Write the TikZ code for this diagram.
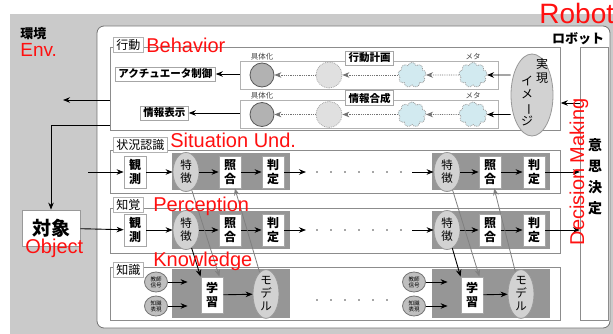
\documentclass[tikz,border=0pt]{standalone}
\usepackage{fontspec}
\setmainfont{Liberation Sans}
\newfontfamily\jp{Noto Sans CJK JP}
\usetikzlibrary{arrows.meta,shapes.geometric,shapes.symbols}
\definecolor{envgray}{HTML}{CACACA}
\definecolor{grpgray}{HTML}{969696}
\definecolor{ovalgray}{HTML}{D2D2D2}
\definecolor{cloudblue}{HTML}{D2EAF0}
\definecolor{enred}{HTML}{FF1010}

\begin{document}
\begin{tikzpicture}[x=1pt, y=-1pt, line width=0.8pt,
  panel/.style={draw=black!45, fill=white, anchor=north west, inner sep=0pt},
  tag/.style={draw=black!30, fill=white, anchor=north west, inner xsep=3pt, inner ysep=2pt,
    font=\jp\fontsize{12}{12}\selectfont},
  plate/.style={draw=black!35, fill=white, inner xsep=3pt, inner ysep=2pt,
    font=\jp\bfseries\fontsize{10.5}{11}\selectfont},
  rowbox/.style={draw=black!30, fill=white, minimum width=258pt, minimum height=28pt, inner sep=0pt},
  vbox/.style={draw=black!35, fill=white, minimum width=22pt, minimum height=32pt,
    inner sep=0pt, align=center, font=\jp\bfseries\fontsize{12}{14}\selectfont},
  oval/.style={ellipse, draw=black!40, fill=ovalgray, inner sep=0pt, align=center,
    font=\jp\fontsize{11.5}{13}\selectfont},
  smalloval/.style={ellipse, draw=black!55, fill=black!25, inner sep=0pt, align=center,
    minimum width=23pt, minimum height=20pt, font=\jp\fontsize{5.5}{6}\selectfont},
  realc/.style={circle, draw=black!65, fill=black!30, minimum size=24pt, inner sep=0pt},
  planc/.style={circle, densely dotted, draw=black!35, fill=black!12, minimum size=26pt, inner sep=0pt},
  metac/.style={cloud, cloud puffs=9, cloud ignores aspect, densely dotted, draw=black!40,
    fill=cloudblue, minimum width=28pt, minimum height=25pt, inner sep=0pt},
  mini/.style={font=\jp\fontsize{7.5}{8}\selectfont, inner sep=0pt, text=black!75},
  arr/.style={-{Stealth[length=7pt,width=5.5pt]}, line width=0.9pt},
  garr/.style={arr, draw=black!50, line width=0.8pt},
  darr/.style={-{Stealth[length=7pt,width=5.5pt]}, densely dotted, draw=black!55, line width=0.8pt},
  dots/.style={line width=1.8pt, line cap=round, dash pattern=on 0pt off 14pt, black!70},
  en/.style={text=enred, font=\fontsize{20}{20}\selectfont, inner sep=0pt, anchor=base west},
]
  % page, environment (gray) and the robot (white, rounded)
  \useasboundingbox (0,0) rectangle (613,334);
  \fill[white] (0,0) rectangle (613,334);
  \fill[envgray] (10,14) rectangle (613,334);
  \draw[black!55, fill=white, rounded corners=7pt] (97,26) rectangle (610,328);

  \node[anchor=north west, inner sep=0pt, font=\jp\bfseries\fontsize{13}{13}\selectfont]
    (envtitle) at (20,27) {環境};
  \node[anchor=north, inner sep=0pt, font=\jp\bfseries\fontsize{13}{13}\selectfont]
    (robtitle) at (578,32) {ロボット};

  % the four panels and the decision column
  \node[panel, minimum width=450pt, minimum height=83pt] (beh) at (110,47) {};
  \node[panel, minimum width=450pt, minimum height=43pt] (sit) at (110,150) {};
  \node[panel, minimum width=450pt, minimum height=45pt] (per) at (110,208) {};
  \node[panel, minimum width=450pt, minimum height=53pt] (kno) at (110,267) {};
  \node[panel, minimum width=28pt, minimum height=273pt] (dm) at (580,47) {};
  \node[align=center, inner sep=0pt, font=\jp\bfseries\fontsize{14}{21}\selectfont]
    (dmtext) at (595,177) {意\\思\\決\\定};

  \node[tag] (behtag) at (113,37) {行動};
  \node[tag] (sittag) at (113,137) {状況認識};
  \node[tag] (pertag) at (113,197) {知覚};
  \node[tag] (knotag) at (113,262) {知識};

  % behavior: two strips, concrete <- plan <- meta <- meta
  \node[plate, anchor=west] (act) at (115,74) {アクチュエータ制御};
  \node[plate, anchor=west] (info) at (140,113) {情報表示};
  \node[rowbox] (row1) at (369,75) {};
  \node[rowbox] (row2) at (369,114.5) {};
  \node[plate] (plan) at (369.5,58) {行動計画};
  \node[plate] (synth) at (369.5,98) {情報合成};
  \node[mini] (con1) at (262,57) {具体化};
  \node[mini] (con2) at (262,96) {具体化};
  \node[mini] (meta1) at (473,57) {メタ};
  \node[mini] (meta2) at (473,96) {メタ};

  \node[realc] (bk1) at (262,75) {};
  \node[planc] (bm1) at (329,75) {};
  \node[metac] (bc1) at (412,75) {};
  \node[metac] (bn1) at (473,75) {};
  \node[realc] (bk2) at (262,114.5) {};
  \node[planc] (bm2) at (329,114.5) {};
  \node[metac] (bc2) at (412,114.5) {};
  \node[metac] (bn2) at (473,114.5) {};

  \node[oval, minimum width=42pt, minimum height=82pt] (img) at (532,95) {};
  \node[align=center, inner sep=0pt, font=\jp\fontsize{12}{13.5}\selectfont]
    (imgA) at (542,71) {実\\現};
  \node[align=center, inner sep=0pt, font=\jp\fontsize{12}{13.5}\selectfont]
    (imgB) at (527,101) {イ\\メ\\\rotatebox[origin=c]{-90}{ー}\\ジ};

  \draw[darr] (bn1) -- (bc1);
  \draw[darr] (bc1) -- (bm1);
  \draw[darr] (bm1) -- (bk1);
  \draw[darr] (bn2) -- (bc2);
  \draw[darr] (bc2) -- (bm2);
  \draw[darr] (bm2) -- (bk2);
  \draw[arr] (img.west |- bn1) -- (bn1);
  \draw[arr] (img.west |- bn2) -- (bn2);
  \draw[arr] (row1.west |- act) -- (act);
  \draw[arr] (row2.west |- info) -- (info);
  \draw[arr] (dm.west |- 0,103) -- (beh.east |- 0,103);

  % the object in the environment
  \node[draw=black!40, fill=white, minimum width=58pt, minimum height=36pt, inner sep=0pt,
    font=\jp\bfseries\fontsize{19}{19}\selectfont] (obj) at (51,228) {対象};
  \coordinate (envout) at (63,100);
  \coordinate (envin) at (88,172);
  \draw[arr] (beh.west |- envout) -- (envout);
  \draw[arr] (beh.west |- 0,125) -| (obj);

  % situation understanding
  \fill[grpgray] (172,153) rectangle (290,190);
  \fill[grpgray] (432,153) rectangle (550,190);
  \node[vbox] (sk1) at (135,172) {観\\測};
  \node[oval, minimum width=26pt, minimum height=39pt] (sf1) at (186,172) {特\\徴};
  \node[vbox] (sm1) at (230,172) {照\\合};
  \node[vbox] (sj1) at (273,172) {判\\定};
  \node[oval, minimum width=26pt, minimum height=39pt] (sf2) at (447,172) {特\\徴};
  \node[vbox] (sm2) at (490,172) {照\\合};
  \node[vbox] (sj2) at (534,172) {判\\定};
  \coordinate (sout) at (306,172);
  \coordinate (sin) at (412,172);

  % perception
  \fill[grpgray] (172,211) rectangle (290,249);
  \fill[grpgray] (432,211) rectangle (550,249);
  \node[vbox] (pk1) at (135,230) {観\\測};
  \node[oval, minimum width=26pt, minimum height=39pt] (pf1) at (186,230) {特\\徴};
  \node[vbox] (pm1) at (230,230) {照\\合};
  \node[vbox] (pj1) at (273,230) {判\\定};
  \node[oval, minimum width=26pt, minimum height=39pt] (pf2) at (447,230) {特\\徴};
  \node[vbox] (pm2) at (490,230) {照\\合};
  \node[vbox] (pj2) at (534,230) {判\\定};
  \coordinate (pout) at (306,230);
  \coordinate (pin) at (412,230);

  % knowledge
  \fill[grpgray] (172,269) rectangle (290,318);
  \fill[grpgray] (432,269) rectangle (550,318);
  \node[smalloval] (ts1) at (156,282) {教師\\信号};
  \node[smalloval] (tr1) at (156,306) {知識\\表現};
  \node[vbox, minimum height=36pt] (ln1) at (212,295) {学\\習};
  \node[oval, minimum width=26pt, minimum height=45pt] (md1) at (266,294) {モ\\デ\\ル};
  \node[smalloval] (ts2) at (414,282) {教師\\信号};
  \node[smalloval] (tr2) at (414,306) {知識\\表現};
  \node[vbox, minimum height=36pt] (ln2) at (472,295) {学\\習};
  \node[oval, minimum width=26pt, minimum height=45pt] (md2) at (521,294) {モ\\デ\\ル};

  % row connectors
  \draw[arr] (envin) -- (sk1);
  \draw[arr] (sk1) -- (sf1);
  \draw[arr] (sf1) -- (sm1);
  \draw[arr] (sm1) -- (sj1);
  \draw[arr] (sj1) -- (sout);
  \draw[dots] (317,172) -- (402,172);
  \draw[arr] (sin) -- (sf2);
  \draw[arr] (sf2) -- (sm2);
  \draw[arr] (sm2) -- (sj2);
  \draw[arr] (sj2) -- (sj2 -| dm.west);

  \draw[arr] (obj) -- (pk1);
  \draw[arr] (pk1) -- (pf1);
  \draw[arr] (pf1) -- (pm1);
  \draw[arr] (pm1) -- (pj1);
  \draw[arr] (pj1) -- (pout);
  \draw[dots] (317,230) -- (402,230);
  \draw[arr] (pin) -- (pf2);
  \draw[arr] (pf2) -- (pm2);
  \draw[arr] (pm2) -- (pj2);
  \draw[arr] (pj2) -- (pj2 -| dm.west);

  \draw[arr, shorten >=13pt] (ts1) -- (ts1 -| ln1.west);
  \draw[arr, shorten >=13pt] (tr1) -- (tr1 -| ln1.west);
  \draw[arr] (ln1) -- (md1);
  \draw[dots] (317,300) -- (390,300);
  \draw[arr, shorten >=13pt] (ts2) -- (ts2 -| ln2.west);
  \draw[arr, shorten >=13pt] (tr2) -- (tr2 -| ln2.west);
  \draw[arr] (ln2) -- (md2);

  % learning links across the rows
  \draw[garr] (sf1) -- ([xshift=-4pt]ln1.north east);
  \draw[arr] (pf1) -- (ln1.north west);
  \draw[garr] (md1) -- (sm1);
  \draw[garr] (sf2) -- ([xshift=-4pt]ln2.north east);
  \draw[arr] (pf2) -- (ln2.north west);
  \draw[garr] (md2) -- (sm2);

  % English labels
  \node[en, font=\fontsize{28}{28}\selectfont] (robotEn) at (539,24) {Robot};
  \node[en, font=\fontsize{19}{19}\selectfont] (envEn) at (20,57) {Env.};
  \node[en] (behEn) at (146,53) {Behavior};
  \node[en] (sitEn) at (170,148) {Situation Und.};
  \node[en] (perEn) at (153,211) {Perception};
  \node[en] (knoEn) at (153,266) {Knowledge};
  \node[en] (objEn) at (25,253) {Object};
  \node[en, anchor=base, rotate=90] (dmEn) at (584,172) {Decision Making};
\end{tikzpicture}
\end{document}
